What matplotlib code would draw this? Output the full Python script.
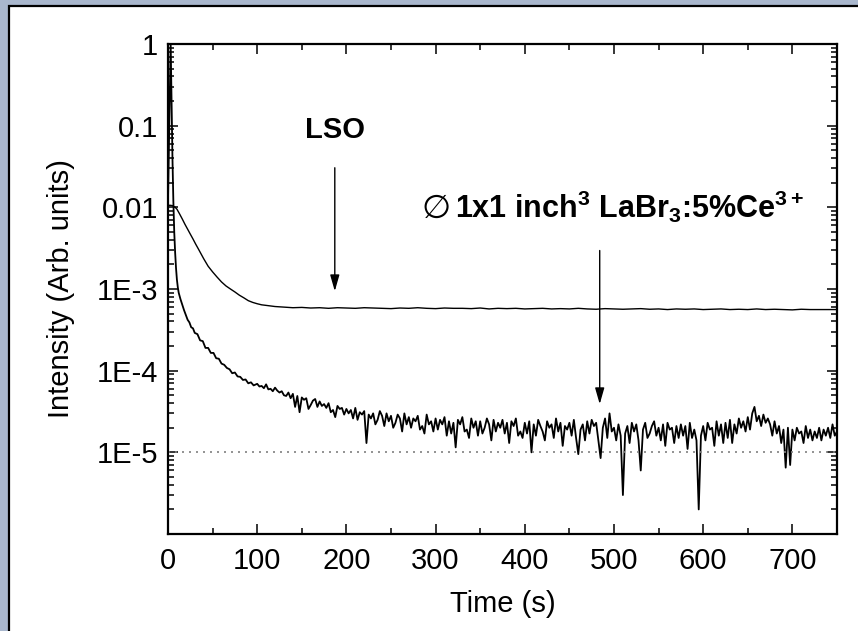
import numpy as np
import matplotlib
matplotlib.use('Agg')
import matplotlib.pyplot as plt
from matplotlib.patches import Rectangle
from matplotlib.ticker import MultipleLocator, LogLocator, NullFormatter

plt.rcParams['font.family'] = ['Liberation Sans', 'DejaVu Sans']
plt.rcParams['mathtext.fontset'] = 'custom'
plt.rcParams['mathtext.rm'] = 'Liberation Sans:bold'
plt.rcParams['mathtext.it'] = 'Liberation Sans:bold'
plt.rcParams['mathtext.bf'] = 'Liberation Sans:bold'

# LSO afterglow
lso_t = [0, 2, 5, 8, 10, 13, 16, 19, 22, 25, 28, 31, 34, 37, 40, 45, 50, 55, 60,
         65, 70, 75, 80, 85, 90, 95, 100, 105, 110, 115, 120, 125]
lso_i = [1.05e-2, 1.06e-2, 1.05e-2, 1.0e-2, 9.5e-3, 8.3e-3, 7.2e-3, 6.2e-3, 5.4e-3,
         4.7e-3, 4.1e-3, 3.55e-3, 3.1e-3, 2.7e-3, 2.35e-3, 1.9e-3, 1.62e-3, 1.4e-3,
         1.22e-3, 1.09e-3, 1.0e-3, 9.2e-4, 8.4e-4, 7.8e-4, 7.2e-4, 6.85e-4, 6.6e-4,
         6.4e-4, 6.3e-4, 6.2e-4, 6.1e-4, 6.05e-4]
# flat part, every 10 s from 130 s, in units of 1e-4
lso_flat = [6.0, 5.9, 5.95, 5.85, 5.9, 5.8, 5.9, 5.85, 5.8, 5.9,
            5.85, 5.8, 5.75, 5.85, 5.8, 5.9, 5.8, 5.75, 5.85, 5.8,
            5.8, 5.75, 5.85, 5.7, 5.8, 5.75, 5.8, 5.7, 5.75, 5.8,
            5.7, 5.75, 5.7, 5.8, 5.7, 5.65, 5.75, 5.7, 5.65, 5.7,
            5.75, 5.65, 5.7, 5.6, 5.7, 5.65, 5.7, 5.6, 5.65, 5.7,
            5.6, 5.65, 5.6, 5.7, 5.6, 5.65, 5.6, 5.55, 5.65, 5.6,
            5.6, 5.6, 5.6]

# LaBr3:5%Ce afterglow
labr_t_early = [0, 2, 3, 4, 5, 6, 7, 8, 9, 10, 11, 12, 14, 16, 18, 20, 22, 24, 26, 28,
                30, 33, 36, 39, 42, 45, 48, 51, 54, 57, 60, 63, 66, 69, 72, 75, 78, 81,
                84, 87, 90, 93, 96]
labr_i_early = [1.2e-2, 0.25, 1.0, 0.2, 0.04, 0.012, 5.0e-3, 2.8e-3, 1.8e-3, 1.3e-3,
                1.05e-3, 9.0e-4, 7.5e-4, 6.4e-4, 5.5e-4, 4.8e-4, 4.2e-4, 3.9e-4, 3.4e-4,
                3.3e-4, 2.9e-4, 2.8e-4, 2.35e-4, 2.3e-4, 1.9e-4, 1.9e-4, 1.65e-4, 1.65e-4,
                1.42e-4, 1.4e-4, 1.22e-4, 1.18e-4, 1.08e-4, 1.04e-4, 9.3e-5, 9.5e-5,
                8.5e-5, 8.4e-5, 7.7e-5, 7.8e-5, 7.0e-5, 7.2e-5, 6.6e-5]
# noisy tail, every 2.5 s from 100 s, in units of 1e-5
labr_tail = [6.9, 6.4, 6.5, 6.1, 6.8, 5.9, 6.0, 5.6, 6.2, 5.7,
             5.4, 5.6, 5.0, 4.9, 5.4, 4.6, 5.2, 3.6, 4.9, 3.1,
             4.7, 4.4, 4.6, 3.4, 3.8, 4.3, 4.5, 3.6, 4.2, 3.7,
             3.9, 3.5, 4.0, 3.1, 3.3, 2.7, 3.7, 3.4, 3.5, 2.9,
             3.4, 3.0, 3.3, 2.6, 3.5, 2.5, 3.1, 2.9, 3.2, 1.3,
             2.9, 2.6, 3.0, 2.2, 2.5, 3.2, 2.8, 2.1, 3.0, 2.4,
             2.8, 2.0, 2.3, 2.9, 2.6, 1.8, 3.0, 2.2, 2.7, 2.0,
             2.6, 2.4, 2.8, 1.9, 2.1, 1.7, 2.9, 2.2, 2.4, 1.8,
             2.6, 1.9, 2.5, 2.2, 2.7, 1.6, 2.4, 1.7, 2.3, 1.15,
             2.5, 2.2, 2.7, 1.8, 1.9, 1.5, 2.6, 2.0, 2.4, 1.6,
             2.4, 1.7, 2.0, 2.6, 2.2, 1.4, 2.5, 1.8, 2.3, 2.0,
             2.5, 1.7, 2.3, 1.3, 2.4, 2.1, 2.6, 1.6, 1.8, 1.5,
             2.3, 1.7, 2.4, 1.0, 2.2, 1.6, 2.5, 2.1, 1.8, 1.4,
             2.4, 2.0, 2.2, 1.5, 2.6, 1.8, 2.3, 1.2, 2.1, 1.9,
             2.3, 1.6, 2.5, 1.5, 0.95, 1.9, 2.2, 1.4, 2.4, 1.7,
             2.5, 2.1, 2.3, 1.4, 0.85, 2.0, 2.6, 1.5, 3.0, 1.8,
             2.0, 1.4, 2.2, 1.6, 0.30, 1.7, 2.1, 1.3, 2.3, 1.8,
             2.2, 1.4, 0.6, 1.9, 2.3, 1.5, 1.7, 2.1, 2.4, 1.6,
             2.0, 1.4, 2.2, 1.2, 2.3, 1.9, 2.0, 1.3, 2.1, 1.5,
             2.2, 1.6, 2.1, 1.1, 2.3, 1.5, 1.9, 1.4, 0.20, 1.6,
             2.1, 1.4, 2.3, 1.9, 2.0, 1.2, 2.4, 1.6, 2.2, 1.3,
             2.3, 1.5, 2.5, 1.3, 2.2, 1.7, 2.6, 2.0, 2.4, 1.8,
             2.7, 1.9, 3.0, 3.6, 2.4, 2.8, 2.1, 2.9, 2.3, 2.6,
             2.2, 1.6, 2.4, 1.7, 2.1, 1.3, 1.9, 0.65, 2.0, 0.7,
             1.9, 1.4, 2.0, 1.7, 1.8, 1.3, 2.1, 1.5, 1.9, 1.4,
             1.8, 1.5, 2.0, 1.4, 1.9, 1.6, 2.0, 1.5, 2.2, 1.6,
             1.8]

x_ticks = [0, 100, 200, 300, 400, 500, 600, 700]
y_ticks = [1, 0.1, 0.01, 1e-3, 1e-4, 1e-5]
y_labels = ['1', '0.1', '0.01', '1E-3', '1E-4', '1E-5']

lso_x = np.concatenate([lso_t, 130 + 10 * np.arange(len(lso_flat))])
lso_y = np.concatenate([lso_i, np.array(lso_flat) * 1e-4])
labr_x = np.concatenate([labr_t_early, 100 + 2.5 * np.arange(len(labr_tail))])
labr_y = np.concatenate([labr_i_early, np.array(labr_tail) * 1e-5])

fig = plt.figure(figsize=(8.58, 6.31), dpi=100)
fig.patch.set_facecolor('#a9b7cd')
fig.add_artist(Rectangle((9 / 858, -0.05), 1.1, 1.05 - 6 / 631, transform=fig.transFigure,
                         facecolor='white', edgecolor='black', lw=1.6, zorder=0))

ax = fig.add_axes([0.1958, 0.1537, 0.7797, 0.7766])
ax.plot(labr_x, labr_y, color='black', lw=1.3)
ax.plot(lso_x, lso_y, color='black', lw=1.0)
ax.axhline(1e-5, color='#808080', lw=1.2, ls=(0, (1.2, 3)))

ax.set_yscale('log')
ax.set_xlim(0, 750)
ax.set_ylim(1e-6, 1)
ax.set_xticks(x_ticks)
ax.xaxis.set_minor_locator(MultipleLocator(50))
ax.set_yticks(y_ticks)
ax.set_yticklabels(y_labels)
ax.yaxis.set_minor_locator(LogLocator(base=10, subs=np.arange(2, 10)))
ax.yaxis.set_minor_formatter(NullFormatter())
ax.tick_params(which='both', direction='in', top=True, right=True, width=1.1,
               labelsize=21)
ax.tick_params(axis='x', pad=9)
ax.tick_params(axis='y', pad=7)
ax.tick_params(which='major', length=7)
ax.tick_params(which='minor', length=4)
for s in ax.spines.values():
    s.set_linewidth(1.6)

ax.set_xlabel('Time (s)', fontsize=21, labelpad=11)
ax.set_ylabel('Intensity (Arb. units)', fontsize=21, labelpad=16)

ax.text(187, 0.089, 'LSO', ha='center', va='center', fontsize=21, fontweight='bold')
ax.annotate('', xy=(187, 8.7e-4), xytext=(187, 0.033),
            arrowprops=dict(arrowstyle='-|>,head_width=0.2,head_length=0.7',
                            color='black', lw=1.0, mutation_scale=14))
ax.text(300, 7.5e-3, '\u2205', ha='center', va='baseline', fontsize=24,
        family='DejaVu Sans')
ax.text(322, 7.5e-3, r'1x1 inch$^{3}$ LaBr$_{3}$:5%Ce$^{3+}$', ha='left', va='baseline',
        fontsize=22, fontweight='bold')
ax.annotate('', xy=(484, 3.6e-5), xytext=(484, 3.2e-3),
            arrowprops=dict(arrowstyle='-|>,head_width=0.2,head_length=0.7',
                            color='black', lw=1.0, mutation_scale=14))

fig.savefig('out.png', dpi=100, facecolor=fig.get_facecolor())
